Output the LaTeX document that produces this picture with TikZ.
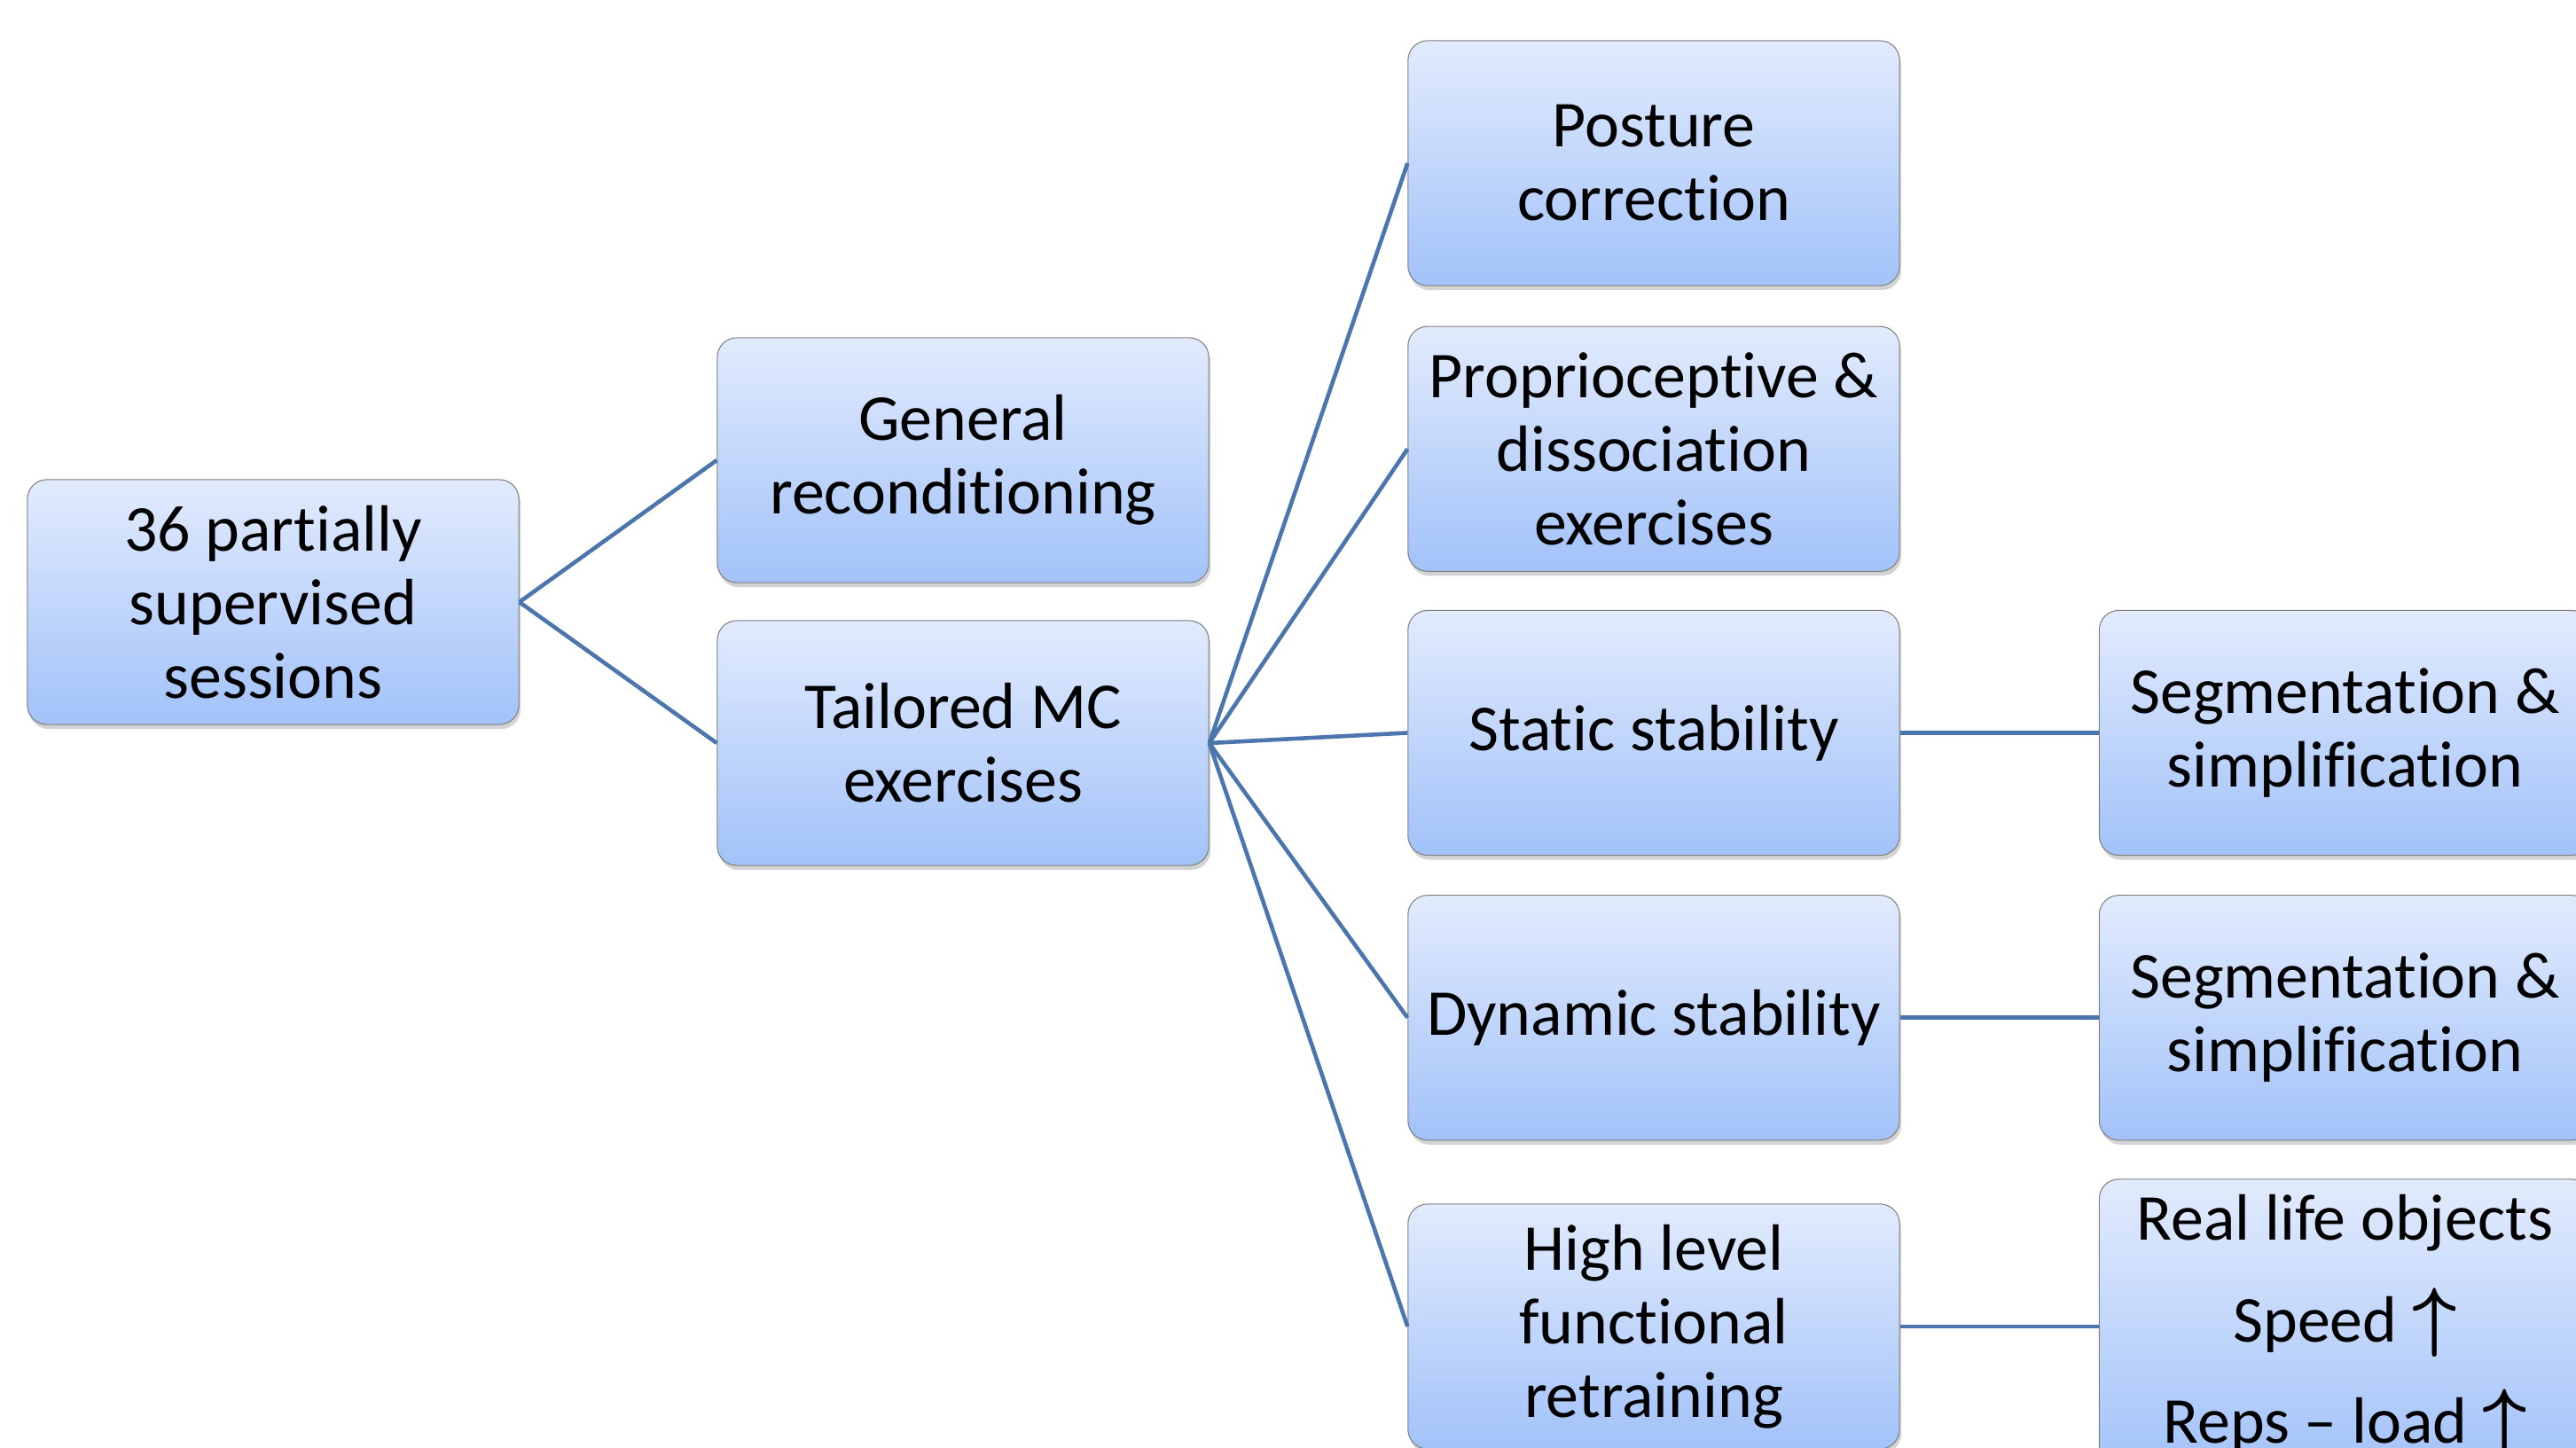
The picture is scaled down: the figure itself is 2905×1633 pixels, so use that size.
\documentclass[tikz,border=0pt]{standalone}
\usepackage{fontspec}
\setmainfont{Carlito}[Ligatures={NoCommon}]
\usepackage{tikz}
\usetikzlibrary{positioning}
\usetikzlibrary{shadows}
\usepackage{xcolor}
\definecolor{boxtop}{RGB}{226,235,253}
\definecolor{boxbot}{RGB}{162,194,249}
\definecolor{boxline}{RGB}{128,128,128}
\definecolor{linkblue}{RGB}{74,118,173}
\newcommand{\upmore}{{\fontsize{27}{23.6}\selectfont\boldmath$\uparrow$}}

\begin{document}
\begin{tikzpicture}[x=0.01cm, y=-0.01cm, every node/.style={font=\fontsize{21}{23.6}\selectfont}]
\tikzstyle{box}=[draw=boxline, line width=0.3pt, rounded corners=2.2mm, top color=boxtop, bottom color=boxbot, minimum width=5.54cm, minimum height=2.76cm, inner sep=0pt, align=center, drop shadow={shadow xshift=0.2mm, shadow yshift=-0.5mm, opacity=0.35}]
\tikzstyle{link}=[draw=linkblue, line width=1.3pt]
\useasboundingbox (0,0) rectangle (2905,1633);
% first two columns
\node[box] (sessions) at (308,679) {36 partially\\supervised\\sessions};
\node[box] (general) at (1086,519) {General\\reconditioning};
\node[box] (tailored) at (1086,838) {Tailored MC\\exercises};
% exercise column
\node[box] (posture) at (1865,184) {Posture\\correction};
\node[box, below=0.45cm of posture] (proprio) {Proprioceptive \&\\dissociation\\exercises};
\node[box, below=0.43cm of proprio] (static) {Static stability};
\node[box, below=0.44cm of static] (dynamic) {Dynamic stability};
\node[box, below=0.71cm of dynamic] (highlevel) {High level\\functional\\retraining};
% last column
\node[box, right=2.24cm of static] (segstatic) {Segmentation \&\\simplification};
\node[box, right=2.24cm of dynamic] (segdynamic) {Segmentation \&\\simplification};
\node[box, right=2.24cm of highlevel, minimum height=3.32cm] (reallife) {Real life objects\\[9pt]Speed \upmore\\[9pt]Reps – load \upmore};
% connectors
\draw[link] (sessions.east) -- (general.west);
\draw[link] (sessions.east) -- (tailored.west);
\foreach \n in {posture,proprio,static,dynamic,highlevel}
  \draw[link] (tailored.east) -- (\n.west);
\draw[link] (static.east) -- (segstatic.west);
\draw[link] (dynamic.east) -- (segdynamic.west);
\draw[link] (highlevel.east) -- (reallife.west);
\end{tikzpicture}
\end{document}
